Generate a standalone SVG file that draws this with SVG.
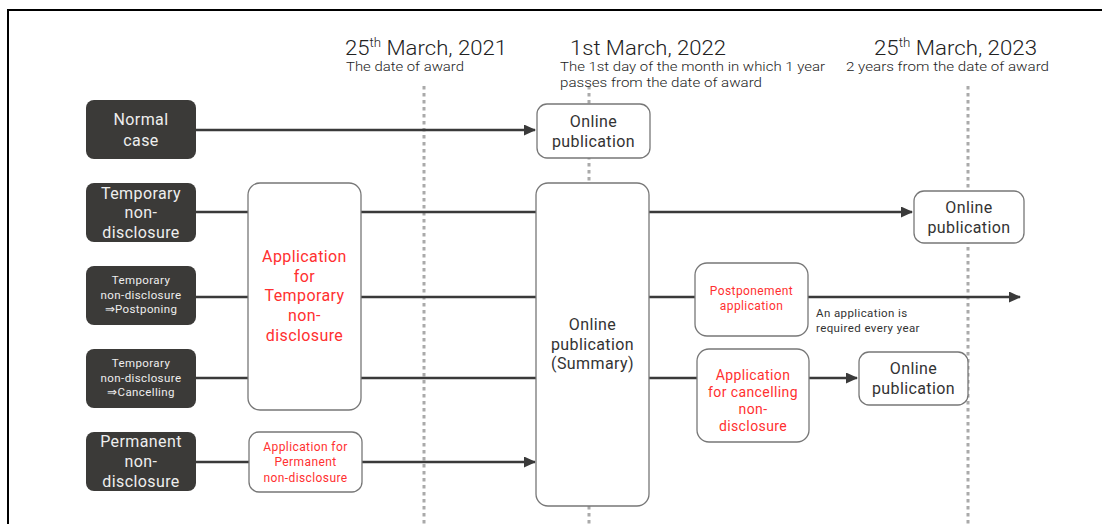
<svg xmlns="http://www.w3.org/2000/svg" width="1102" height="524" viewBox="0 0 1102 524">
<style>
.dark{fill:#3b3a38;}
.box{fill:#fff;stroke:#777;stroke-width:1.3;}
.t{font-family:Roboto,"Noto Sans",sans-serif;text-anchor:middle;letter-spacing:0.4px;}
.w{fill:#eeeeee;}
.g{fill:#333;}
.r{fill:#ff3030;}
.h{font-family:Roboto,"Liberation Sans",sans-serif;font-weight:300;fill:#222;}
.dot{stroke:#aaa;stroke-width:3;stroke-dasharray:3.5 3.5;fill:none;}
.ln{stroke:#3a3a3a;stroke-width:2.5;fill:none;}
</style>
<defs>
<marker id="arr" viewBox="0 0 12 11" refX="11" refY="5.5" markerWidth="12" markerHeight="11" markerUnits="userSpaceOnUse" orient="auto">
<path d="M0,0 L12,5.5 L0,11 z" fill="#3a3a3a"/>
</marker>
</defs>
<rect width="1102" height="524" fill="#fff"/>
<path d="M8,524 V10 H1102" fill="none" stroke="#000" stroke-width="2"/>
<g id="timeline">
<line class="dot" x1="424" y1="86" x2="424" y2="524"/>
<line class="dot" x1="589" y1="86" x2="589" y2="524"/>
<line class="dot" x1="968" y1="86" x2="968" y2="524"/>
<text class="h" x="345" y="55" font-size="20" textLength="162" lengthAdjust="spacingAndGlyphs">25<tspan font-size="12" dy="-8">th</tspan><tspan dy="8"> March, 2021</tspan></text>
<text class="h" x="346" y="71" font-size="13" textLength="118" lengthAdjust="spacingAndGlyphs">The date of award</text>
<text class="h" x="570" y="55" font-size="20" textLength="156" lengthAdjust="spacingAndGlyphs">1st March, 2022</text>
<text class="h" x="560" y="71" font-size="13" textLength="265" lengthAdjust="spacingAndGlyphs">The 1st day of the month in which 1 year</text>
<text class="h" x="560" y="87" font-size="13" textLength="202" lengthAdjust="spacingAndGlyphs">passes from  the date of award</text>
<text class="h" x="874" y="55" font-size="20" textLength="163" lengthAdjust="spacingAndGlyphs">25<tspan font-size="12" dy="-8">th</tspan><tspan dy="8"> March, 2023</tspan></text>
<text class="h" x="846" y="71" font-size="13" textLength="203" lengthAdjust="spacingAndGlyphs">2 years from  the date of award</text>
</g>
<g id="connectors">
<line class="ln" x1="196" y1="130" x2="535" y2="130" marker-end="url(#arr)"/>
<line class="ln" x1="196" y1="212" x2="248" y2="212"/>
<line class="ln" x1="361" y1="212" x2="536" y2="212"/>
<line class="ln" x1="649" y1="212" x2="912" y2="212" marker-end="url(#arr)"/>
<line class="ln" x1="196" y1="297" x2="248" y2="297"/>
<line class="ln" x1="361" y1="297" x2="536" y2="297"/>
<line class="ln" x1="649" y1="297" x2="695" y2="297"/>
<line class="ln" x1="808" y1="297" x2="1020" y2="297" marker-end="url(#arr)"/>
<line class="ln" x1="196" y1="378" x2="248" y2="378"/>
<line class="ln" x1="361" y1="378" x2="536" y2="378"/>
<line class="ln" x1="649" y1="378" x2="697" y2="378"/>
<line class="ln" x1="809" y1="378" x2="857" y2="378" marker-end="url(#arr)"/>
<line class="ln" x1="196" y1="462" x2="249" y2="462"/>
<line class="ln" x1="362" y1="462" x2="535" y2="462" marker-end="url(#arr)"/>
</g>
<g id="normal-case">
<rect class="dark" x="86" y="100" width="110" height="59" rx="8"/>
<text class="t w" font-size="16"><tspan x="141" y="125">Normal</tspan><tspan x="141" y="146">case</tspan></text>
</g>
<g id="temporary">
<rect class="dark" x="86" y="183" width="110" height="59" rx="8"/>
<text class="t w" font-size="16"><tspan x="141" y="199">Temporary</tspan><tspan x="141" y="218">non-</tspan><tspan x="141" y="238">disclosure</tspan></text>
</g>
<g id="postponing">
<rect class="dark" x="86" y="266" width="110" height="59" rx="8"/>
<text class="t w" font-size="11.5"><tspan x="141" y="284">Temporary</tspan><tspan x="141" y="299">non-disclosure</tspan><tspan x="141" y="313">⇒Postponing</tspan></text>
</g>
<g id="cancelling">
<rect class="dark" x="86" y="349" width="110" height="59" rx="8"/>
<text class="t w" font-size="11.5"><tspan x="141" y="367">Temporary</tspan><tspan x="141" y="382">non-disclosure</tspan><tspan x="141" y="396">⇒Cancelling</tspan></text>
</g>
<g id="permanent">
<rect class="dark" x="86" y="432" width="110" height="59" rx="8"/>
<text class="t w" font-size="16"><tspan x="141" y="447">Permanent</tspan><tspan x="141" y="467">non-</tspan><tspan x="141" y="487">disclosure</tspan></text>
</g>
<g id="app-temporary">
<rect class="box" x="248" y="183" width="113" height="227" rx="12"/>
<text class="t r" font-size="16"><tspan x="304.5" y="262">Application</tspan><tspan x="304.5" y="282">for</tspan><tspan x="304.5" y="301">Temporary</tspan><tspan x="304.5" y="321">non-</tspan><tspan x="304.5" y="341">disclosure</tspan></text>
</g>
<g id="app-permanent">
<rect class="box" x="249" y="432" width="113" height="60" rx="10"/>
<text class="t r" font-size="12"><tspan x="305.5" y="451">Application for</tspan><tspan x="305.5" y="466">Permanent</tspan><tspan x="305.5" y="482">non-disclosure</tspan></text>
</g>
<g id="online-normal">
<rect class="box" x="537" y="104" width="113" height="54" rx="10"/>
<text class="t g" font-size="16"><tspan x="593.5" y="127">Online</tspan><tspan x="593.5" y="147">publication</tspan></text>
</g>
<g id="online-summary">
<rect class="box" x="536" y="183" width="113" height="323" rx="12"/>
<text class="t g" font-size="16"><tspan x="592.5" y="330">Online</tspan><tspan x="592.5" y="350">publication</tspan><tspan x="592.5" y="369">(Summary)</tspan></text>
</g>
<g id="online-temporary">
<rect class="box" x="914" y="191" width="110" height="52" rx="10"/>
<text class="t g" font-size="16"><tspan x="969" y="213">Online</tspan><tspan x="969" y="233">publication</tspan></text>
</g>
<g id="postponement-app">
<rect class="box" x="695" y="263" width="113" height="73" rx="12"/>
<text class="t r" font-size="12"><tspan x="751.5" y="295">Postponement</tspan><tspan x="751.5" y="310">application</tspan></text>
</g>
<text class="t g" font-size="11.5" style="text-anchor:start"><tspan x="816" y="317">An application is</tspan><tspan x="816" y="332">required every year</tspan></text>
<g id="cancel-app">
<rect class="box" x="697" y="349" width="112" height="93" rx="12"/>
<text class="t r" font-size="14"><tspan x="753" y="380">Application</tspan><tspan x="753" y="397">for cancelling</tspan><tspan x="753" y="414">non-</tspan><tspan x="753" y="431">disclosure</tspan></text>
</g>
<g id="online-cancel">
<rect class="box" x="859" y="352" width="109" height="53" rx="10"/>
<text class="t g" font-size="16"><tspan x="913.5" y="374">Online</tspan><tspan x="913.5" y="394">publication</tspan></text>
</g>
</svg>
